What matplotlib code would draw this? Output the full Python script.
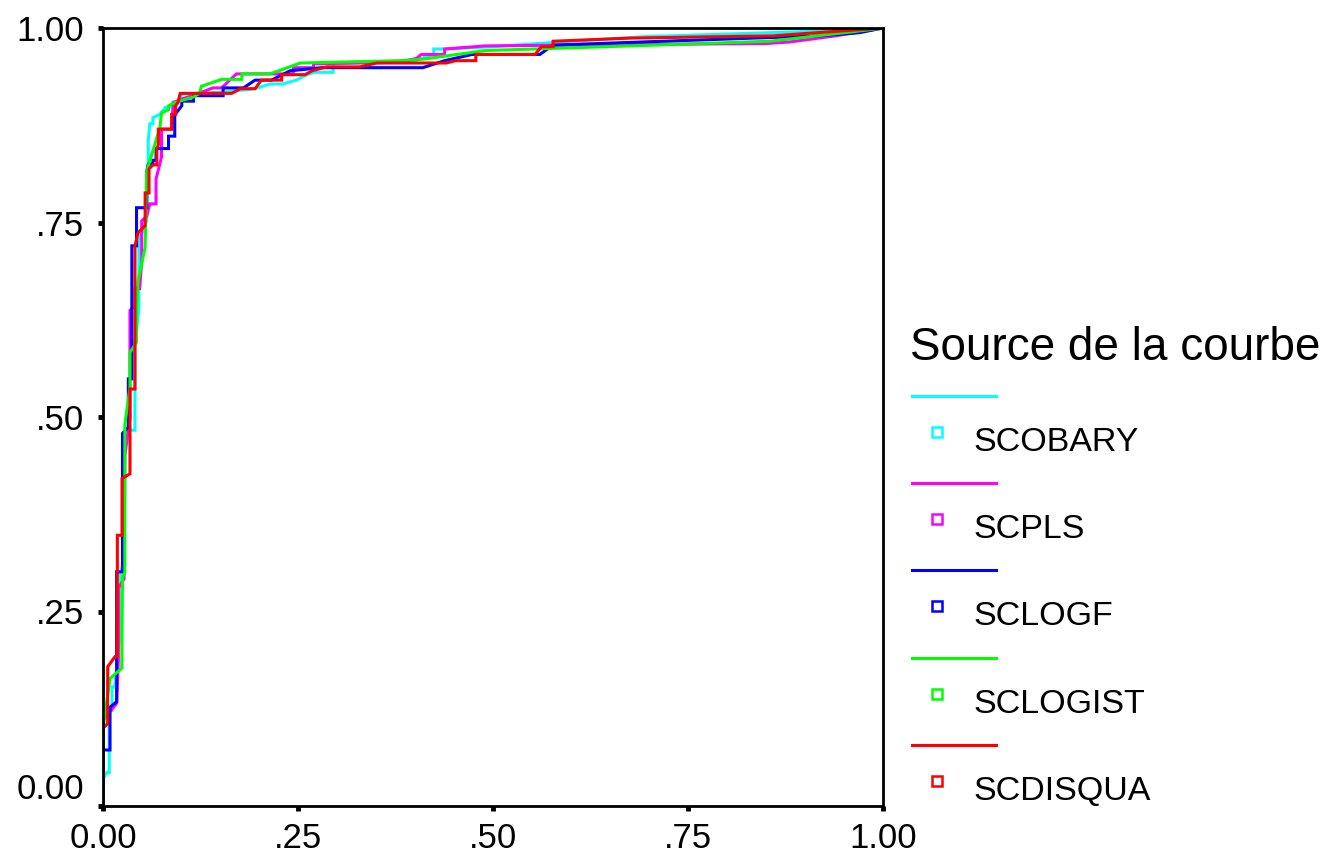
import matplotlib
matplotlib.use('Agg')
import matplotlib.pyplot as plt

#ROC curves of five scores
#each curve is a list of (1 - specificity) values and a list of sensitivity values

seriesNames = ['SCOBARY', 'SCPLS', 'SCLOGF', 'SCLOGIST', 'SCDISQUA']

fprCobary = [0, 0, .0047, .008, .008, .0115, .0115, .015, .0226, .0226, .025, .025, .032, .041, .041, .046,
	.046, .056, .058, .058, .06, .064, .064, .073, .08, .085, .09, .10, .10, .16, .195, .214, .23, .248,
	.257, .27, .295, .295, .40, .424, .424, .438, .5, .6, .697, .983, 1]
tprCobary = [0, .035, .043, .043, .123, .123, .153, .153, .23, .30, .31, .461, .483, .483, .594, .637,
	.727, .752, .825, .855, .877, .877, .885, .889, .898, .898, .905, .906, .915, .918, .922, .928, .928, .933,
	.938, .943, .943, .954, .958, .966, .973, .973, .976, .983, .989, .998, 1]

fprPls = [0, 0, .012, .0175, .0197, .0197, .027, .028, .0346, .0346, .0346, .041, .041, .047, .0496, .0496,
	.056, .06, .068, .068, .075, .075, .088, .09, .099, .12, .141, .152, .171, .244, .244, .27, .27, .38,
	.402, .408, .438, .438, .49, .7, .85, .88, .94, 1]
tprPls = [0, .11, .125, .132, .187, .28, .292, .45, .50, .585, .637, .643, .665, .665, .70, .752,
	.758, .774, .774, .806, .834, .87, .87, .904, .908, .915, .923, .923, .941, .941, .949, .949, .954, .956,
	.961, .966, .966, .973, .977, .979, .98, .982, .99, 1]

fprLogf = [0, 0, .009, .009, .0175, .0175, .025, .025, .0325, .0325, .037, .037, .043, .043, .056, .056,
	.058, .064, .064, .068, .068, .084, .084, .092, .092, .094, .101, .101, .116, .116, .154, .154, .18, .195,
	.216, .24, .28, .41, .438, .473, .56, .577, .69, .92, .97, 1]
tprLogf = [0, .072, .072, .127, .134, .301, .301, .479, .487, .549, .549, .72, .72, .769, .769, .816,
	.825, .825, .83, .83, .845, .845, .861, .861, .887, .891, .900, .906, .906, .913, .913, .923, .923, .933,
	.933, .945, .949, .949, .958, .966, .966, .978, .982, .99, .994, 1]

fprLogist = [0, 0, .009, .024, .025, .028, .028, .0346, .0346, .043, .043, .045, .054, .056, .073, .075,
	.084, .084, .092, .115, .124, .126, .152, .178, .178, .214, .253, .381, .41, .49, .676, .855, .96, 1]
tprLogist = [0, .10, .164, .177, .294, .30, .49, .538, .583, .596, .637, .675, .718, .816, .872, .891,
	.895, .90, .904, .911, .916, .925, .934, .934, .941, .941, .955, .958, .96, .971, .977, .983, .995, 1]

fprDisqua = [0, 0, .006, .006, .0154, .0184, .0184, .0244, .0244, .0346, .0346, .041, .041, .045, .054, .054,
	.059, .059, .064, .069, .069, .071, .071, .088, .088, .093, .093, .096, .099, .165, .176, .195, .203, .229,
	.229, .259, .268, .287, .329, .351, .44, .452, .478, .478, .554, .562, .577, .577, .676, .86, 1]
tprDisqua = [0, .10, .106, .179, .192, .192, .348, .348, .421, .427, .536, .536, .72, .737, .746, .788,
	.788, .819, .824, .824, .845, .85, .870, .870, .889, .889, .900, .904, .916, .916, .922, .922, .933, .933,
	.940, .940, .945, .950, .950, .955, .955, .958, .958, .966, .966, .976, .976, .983, .987, .990, 1]

fprLists = [fprCobary, fprPls, fprLogf, fprLogist, fprDisqua]
tprLists = [tprCobary, tprPls, tprLogf, tprLogist, tprDisqua]
colors = ['#00ffff', '#ff00ff', '#0000ff', '#00ff00', '#ff0000']

tickVals = [0, .25, .5, .75, 1]
tickLabels = ['0.00', '.25', '.50', '.75', '1.00']

plt.rcParams['font.family'] = ['Liberation Sans', 'DejaVu Sans']

fig = plt.figure(figsize=(13.3, 8.58), dpi=100)
ax = fig.add_axes([103/1330., 52/858., 780/1330., 778/858.])

for i in range(len(seriesNames)):
	ax.plot(fprLists[i], tprLists[i], color=colors[i], linewidth=2.2, solid_joinstyle='miter')

ax.set_xlim(0, 1)
ax.set_ylim(0, 1)
ax.set_xticks(tickVals)
ax.set_xticklabels(tickLabels)
ax.set_yticks(tickVals)
ax.set_yticklabels(tickLabels)
ax.tick_params(axis='both', direction='out', length=3.5, width=3.5, labelsize=25, color='black')
ax.tick_params(axis='x', pad=8)
ax.tick_params(axis='y', pad=10)
#SPSS lifts the lowest y label above the corner
ax.get_yticklabels()[0].set_verticalalignment('bottom')
for side in ['left', 'right', 'top', 'bottom']:
	ax.spines[side].set_linewidth(2.0)

#legend drawn by hand in pixel coordinates so it looks like the SPSS one
leg = fig.add_axes([0, 0, 1, 1], facecolor='none')
leg.set_xlim(0, 1330)
leg.set_ylim(858, 0)
leg.axis('off')
leg.text(910, 360, 'Source de la courbe', fontsize=33, va='baseline', ha='left')
for i in range(len(seriesNames)):
	yLine = 396 + 87.2 * i
	leg.plot([912, 996], [yLine, yLine], color=colors[i], linewidth=2.2)
	leg.plot([937], [yLine + 36], marker='s', markersize=7, markerfacecolor='white',
		markeredgecolor=colors[i], markeredgewidth=1.8)
	leg.text(973, yLine + 55, seriesNames[i], fontsize=24.5, va='baseline', ha='left')

plt.savefig('out.png', dpi=100)
